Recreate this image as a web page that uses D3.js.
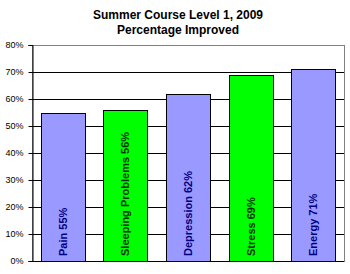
<!DOCTYPE html>
<html>
<head>
<meta charset="utf-8">
<script src="https://cdn.jsdelivr.net/npm/d3@7"></script>
<style>
  body { margin: 0; background: #fff; }
  svg { display: block; font-family: Arial, "Liberation Sans", sans-serif; }
</style>
</head>
<body>
<div id="chart"></div>
<script>
// data
const categories = ['Pain', 'Sleeping Problems', 'Depression', 'Stress', 'Energy'];
const values = [55, 56, 62, 69, 71];
const barColors = ['#9999ff', '#00ff00', '#9999ff', '#00ff00', '#9999ff'];
const labelColors = ['#000080', '#003300', '#000080', '#003300', '#000080'];
const yTicks = [0, 10, 20, 30, 40, 50, 60, 70, 80];

const width = 350, height = 274;
const margin = { top: 45, right: 6, bottom: 13, left: 32 };
const innerWidth = width - margin.left - margin.right;
const innerHeight = height - margin.top - margin.bottom;

const svg = d3.select('#chart').append('svg')
  .attr('width', width)
  .attr('height', height);

// title
svg.append('text')
  .attr('x', 178).attr('y', 19)
  .attr('text-anchor', 'middle')
  .attr('font-size', '12px').attr('font-weight', 'bold')
  .text('Summer Course Level 1, 2009');
svg.append('text')
  .attr('x', 178).attr('y', 34)
  .attr('text-anchor', 'middle')
  .attr('font-size', '12px').attr('font-weight', 'bold')
  .text('Percentage Improved');

const g = svg.append('g')
  .attr('transform', `translate(${margin.left},${margin.top})`);

const x = d3.scaleBand()
  .domain(categories)
  .range([0, innerWidth])
  .paddingInner(0.3)
  .paddingOuter(0.14);

const y = d3.scaleLinear()
  .domain([0, 80])
  .range([innerHeight, 0]);

// plot area border (gray)
g.append('rect')
  .attr('x', 0.5).attr('y', 0.5)
  .attr('width', innerWidth).attr('height', innerHeight)
  .attr('fill', 'none')
  .attr('stroke', '#808080');

// gridlines
g.append('g')
  .selectAll('line')
  .data(yTicks.filter(d => d > 0 && d < 80))
  .enter().append('line')
  .attr('x1', 0).attr('x2', innerWidth)
  .attr('y1', d => Math.round(y(d)) + 0.5)
  .attr('y2', d => Math.round(y(d)) + 0.5)
  .attr('stroke', '#000');

// bars
g.append('g')
  .selectAll('rect')
  .data(values)
  .enter().append('rect')
  .attr('x', (d, i) => Math.round(x(categories[i])) + 0.5)
  .attr('y', d => Math.round(y(d)) + 0.5)
  .attr('width', Math.round(x.bandwidth()))
  .attr('height', d => innerHeight - Math.round(y(d)))
  .attr('fill', (d, i) => barColors[i])
  .attr('stroke', '#000');

// bar labels, rotated
g.append('g')
  .selectAll('text')
  .data(values)
  .enter().append('text')
  .attr('transform', (d, i) => `translate(${x(categories[i]) + x.bandwidth() / 2 + 4},${innerHeight - 5}) rotate(-90)`)
  .attr('text-anchor', 'start')
  .attr('font-size', '11px').attr('font-weight', 'bold')
  .attr('fill', (d, i) => labelColors[i])
  .text((d, i) => `${categories[i]} ${d}%`);

// y axis
const yAxis = g.append('g')
  .attr('transform', 'translate(0.5,0)')
  .call(d3.axisLeft(y).tickValues(yTicks).tickSize(4).tickFormat(d => d + '%'));
yAxis.select('.domain').attr('stroke', '#000');
yAxis.selectAll('.tick line').attr('stroke', '#000');
yAxis.selectAll('.tick text')
  .attr('font-size', '9px')
  .attr('font-family', 'Arial, "Liberation Sans", sans-serif')
  .attr('fill', '#000')
  .attr('x', -9);

// x axis line
g.append('line')
  .attr('x1', 0).attr('x2', innerWidth)
  .attr('y1', innerHeight + 0.5).attr('y2', innerHeight + 0.5)
  .attr('stroke', '#000');
</script>
</body>
</html>
